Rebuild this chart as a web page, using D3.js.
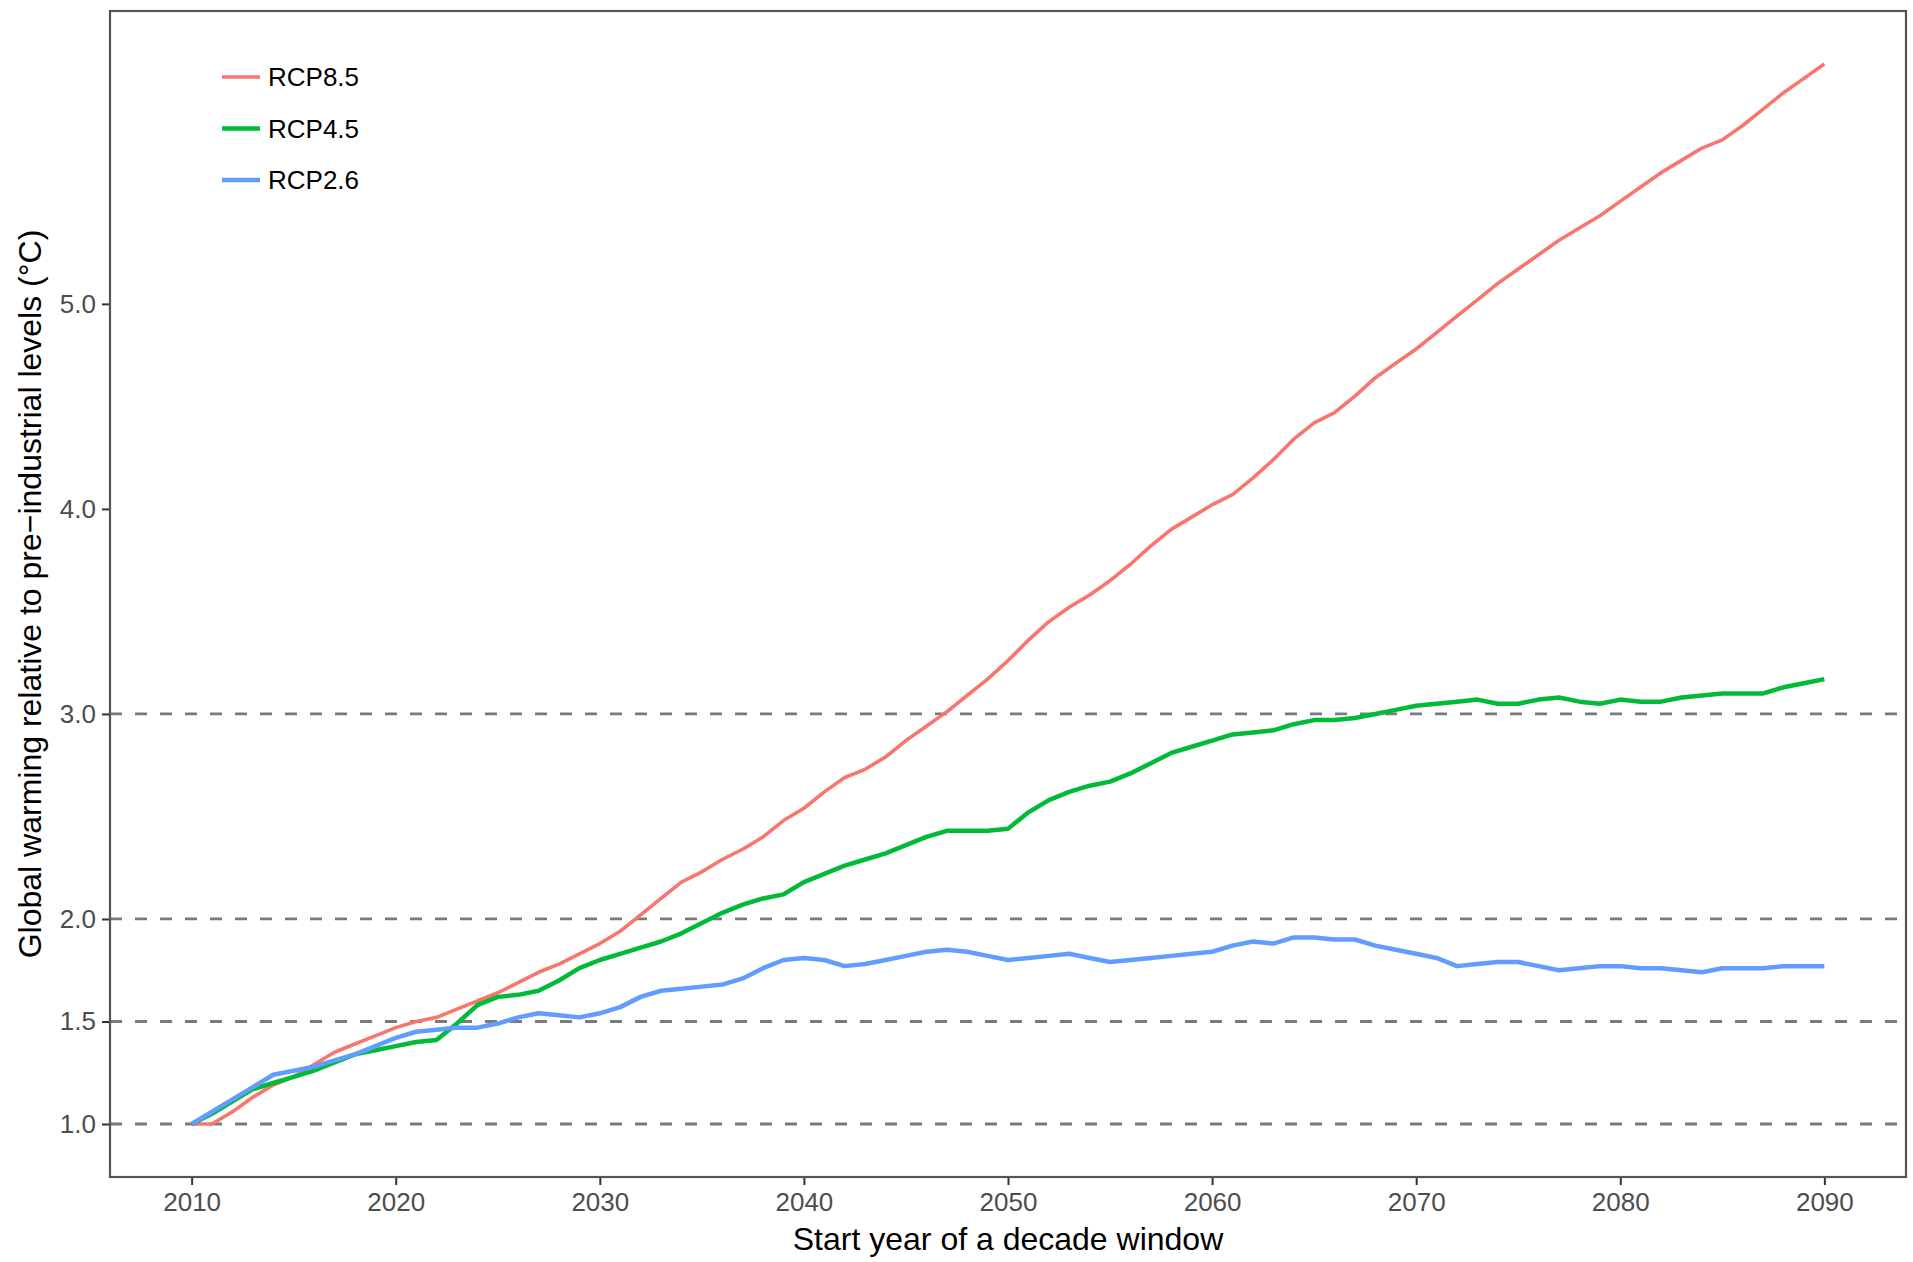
<!DOCTYPE html>
<html>
<head>
<meta charset="utf-8">
<script src="https://cdn.jsdelivr.net/npm/d3@7"></script>
<style>
  html, body { margin: 0; padding: 0; background: #fff; }
</style>
</head>
<body>
<div class="canvas"></div>
<script>
// start years of the decade windows
const years = d3.range(2010, 2091);

const rcp85 = [
  1.00, 1.00, 1.06, 1.13, 1.19, 1.23, 1.29, 1.35, 1.39, 1.43,
  1.47, 1.50, 1.52, 1.56, 1.60, 1.64, 1.69, 1.74, 1.78, 1.83,
  1.88, 1.94, 2.02, 2.10, 2.18, 2.23, 2.29, 2.34, 2.40, 2.48,
  2.54, 2.62, 2.69, 2.73, 2.79, 2.87, 2.94, 3.01, 3.09, 3.17,
  3.26, 3.36, 3.45, 3.52, 3.58, 3.65, 3.73, 3.82, 3.90, 3.96,
  4.02, 4.07, 4.15, 4.24, 4.34, 4.42, 4.47, 4.55, 4.64, 4.71,
  4.78, 4.86, 4.94, 5.02, 5.10, 5.17, 5.24, 5.31, 5.37, 5.43,
  5.50, 5.57, 5.64, 5.70, 5.76, 5.80, 5.87, 5.95, 6.03, 6.10,
  6.17
];
const rcp45 = [
  1.00, 1.05, 1.11, 1.17, 1.20, 1.23, 1.26, 1.30, 1.34, 1.36,
  1.38, 1.40, 1.41, 1.49, 1.58, 1.62, 1.63, 1.65, 1.70, 1.76,
  1.80, 1.83, 1.86, 1.89, 1.93, 1.98, 2.03, 2.07, 2.10, 2.12,
  2.18, 2.22, 2.26, 2.29, 2.32, 2.36, 2.40, 2.43, 2.43, 2.43,
  2.44, 2.52, 2.58, 2.62, 2.65, 2.67, 2.71, 2.76, 2.81, 2.84,
  2.87, 2.90, 2.91, 2.92, 2.95, 2.97, 2.97, 2.98, 3.00, 3.02,
  3.04, 3.05, 3.06, 3.07, 3.05, 3.05, 3.07, 3.08, 3.06, 3.05,
  3.07, 3.06, 3.06, 3.08, 3.09, 3.10, 3.10, 3.10, 3.13, 3.15,
  3.17
];
const rcp26 = [
  1.00, 1.06, 1.12, 1.18, 1.24, 1.26, 1.28, 1.31, 1.34, 1.38,
  1.42, 1.45, 1.46, 1.47, 1.47, 1.49, 1.52, 1.54, 1.53, 1.52,
  1.54, 1.57, 1.62, 1.65, 1.66, 1.67, 1.68, 1.71, 1.76, 1.80,
  1.81, 1.80, 1.77, 1.78, 1.80, 1.82, 1.84, 1.85, 1.84, 1.82,
  1.80, 1.81, 1.82, 1.83, 1.81, 1.79, 1.80, 1.81, 1.82, 1.83,
  1.84, 1.87, 1.89, 1.88, 1.91, 1.91, 1.90, 1.90, 1.87, 1.85,
  1.83, 1.81, 1.77, 1.78, 1.79, 1.79, 1.77, 1.75, 1.76, 1.77,
  1.77, 1.76, 1.76, 1.75, 1.74, 1.76, 1.76, 1.76, 1.77, 1.77,
  1.77
];

const seriesNames = ["RCP8.5", "RCP4.5", "RCP2.6"];
const seriesColors = ["#F8766D", "#00BA38", "#619CFF"];
const refLevels = [1.0, 1.5, 2.0, 3.0];
const yTicks = [1.0, 1.5, 2.0, 3.0, 4.0, 5.0];
const xTicks = [2010, 2020, 2030, 2040, 2050, 2060, 2070, 2080, 2090];

const width = 1913;
const height = 1262;
const margin = ({ top: 11, right: 7, bottom: 85, left: 110 });
const font = "'Liberation Sans', Arial, Helvetica, sans-serif";

const series = [rcp85, rcp45, rcp26].map((vals, i) => ({
  name: seriesNames[i],
  color: seriesColors[i],
  values: vals.map((v, j) => ({ year: years[j], value: v }))
}));

// ggplot style 5% expansion
const xExt = d3.extent(years);
const xPad = (xExt[1] - xExt[0]) * 0.05;
const yExt = d3.extent(series.flatMap(s => s.values), d => d.value);
const yPad = (yExt[1] - yExt[0]) * 0.05;

const x = d3.scaleLinear()
  .domain([xExt[0] - xPad, xExt[1] + xPad])
  .range([margin.left, width - margin.right]);
const y = d3.scaleLinear()
  .domain([yExt[0] - yPad, yExt[1] + yPad])
  .range([height - margin.bottom, margin.top]);

const svg = d3.select('.canvas')
  .append('svg')
  .attr('width', width)
  .attr('height', height)
  .attr('viewBox', [0, 0, width, height])
  .style('font-family', font);

// dashed reference levels
svg.append('g')
  .selectAll('line')
  .data(refLevels)
  .join('line')
  .attr('x1', margin.left)
  .attr('x2', width - margin.right)
  .attr('y1', d => y(d))
  .attr('y2', d => y(d))
  .attr('stroke', '#7a7a7a')
  .attr('stroke-width', 2.8)
  .attr('stroke-dasharray', '12,13');

// the three scenarios
const line = d3.line()
  .x(d => x(d.year))
  .y(d => y(d.value));

svg.append('g')
  .selectAll('path')
  .data(series)
  .join('path')
  .attr('fill', 'none')
  .attr('stroke', d => d.color)
  .attr('stroke-width', (d, i) => i === 0 ? 3.6 : 4.5)
  .attr('stroke-linejoin', 'round')
  .attr('stroke-linecap', 'butt')
  .attr('d', d => line(d.values));

// axes
const xAxis = svg.append('g')
  .attr('transform', `translate(0,${height - margin.bottom})`)
  .call(d3.axisBottom(x).tickValues(xTicks).tickFormat(d3.format('d')).tickSize(8).tickPadding(8))
xAxis.select('.domain').remove();

const yAxis = svg.append('g')
  .attr('transform', `translate(${margin.left},0)`)
  .call(d3.axisLeft(y).tickValues(yTicks).tickFormat(d3.format('.1f')).tickSize(8).tickPadding(6))
yAxis.select('.domain').remove();

svg.selectAll('.tick line')
  .attr('stroke', '#333')
  .attr('stroke-width', 2);
svg.selectAll('.tick text')
  .attr('fill', '#4D4D4D')
  .style('font-size', '26px')
  .style('font-family', font);

// panel border
svg.append('rect')
  .attr('x', margin.left)
  .attr('y', margin.top)
  .attr('width', width - margin.left - margin.right)
  .attr('height', height - margin.top - margin.bottom)
  .attr('fill', 'none')
  .attr('stroke', '#555')
  .attr('stroke-width', 2.2);

// axis titles
svg.append('text')
  .attr('x', (margin.left + width - margin.right) / 2)
  .attr('y', 1250)
  .attr('text-anchor', 'middle')
  .attr('fill', '#000')
  .style('font-size', '32px')
  .text('Start year of a decade window');

svg.append('text')
  .attr('transform', `translate(41,${(margin.top + height - margin.bottom) / 2}) rotate(-90)`)
  .attr('text-anchor', 'middle')
  .attr('fill', '#000')
  .style('font-size', '32px')
  .text('Global warming relative to pre\u2212industrial levels (°C)');

// legend
const legend = svg.append('g')
  .selectAll('g')
  .data(series)
  .join('g')
  .attr('transform', (d, i) => `translate(222,${77 + i * 51.5})`);

legend.append('line')
  .attr('x1', 0)
  .attr('x2', 38)
  .attr('stroke', d => d.color)
  .attr('stroke-width', (d, i) => i === 0 ? 3.6 : 4.5);

legend.append('text')
  .attr('x', 46)
  .attr('dy', '0.35em')
  .attr('fill', '#000')
  .style('font-size', '26px')
  .text(d => d.name);
</script>
</body>
</html>
